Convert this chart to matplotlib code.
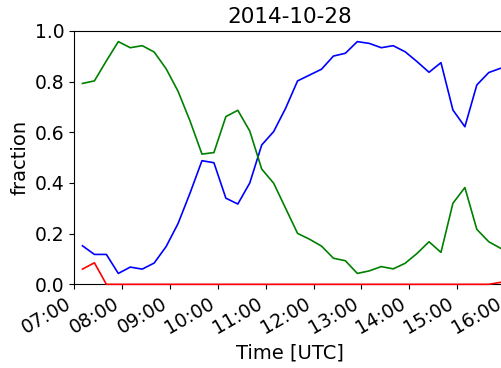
import numpy as np
import pandas as pd
import matplotlib
matplotlib.use("Agg")
import matplotlib.pyplot as plt
import matplotlib.dates as mdates

day = "2014-10-28"
# 15 minute samples starting 07:10 UTC
times = pd.date_range(day + " 07:10", periods=36, freq="15min")

frac_blue = [0.152, 0.118, 0.118, 0.043, 0.068, 0.060, 0.084, 0.149, 0.240, 0.360,
             0.488, 0.480, 0.340, 0.317, 0.400, 0.550, 0.603, 0.695, 0.803, 0.826,
             0.849, 0.901, 0.912, 0.958, 0.951, 0.934, 0.942, 0.918, 0.879, 0.837,
             0.875, 0.688, 0.622, 0.787, 0.836, 0.853]
frac_green = [0.793, 0.803, 0.882, 0.958, 0.934, 0.942, 0.917, 0.851, 0.762, 0.645,
              0.514, 0.520, 0.662, 0.687, 0.605, 0.455, 0.399, 0.300, 0.201, 0.178,
              0.151, 0.103, 0.093, 0.043, 0.053, 0.070, 0.061, 0.083, 0.122, 0.168,
              0.126, 0.320, 0.382, 0.217, 0.168, 0.142]
frac_red = [0.060, 0.085, 0.0, 0.0, 0.0, 0.0, 0.0, 0.0, 0.0, 0.0,
            0.0, 0.0, 0.0, 0.0, 0.0, 0.0, 0.0, 0.0, 0.0, 0.0,
            0.0, 0.0, 0.0, 0.0, 0.0, 0.0, 0.0, 0.0, 0.0, 0.0,
            0.0, 0.0, 0.0, 0.0, 0.0, 0.008]

fig = plt.figure(figsize=(5.02, 3.68), dpi=100)
ax = fig.add_axes([0.1484, 0.2274, 0.857, 0.6884])

ax.plot(times, frac_blue, color="blue", lw=1.2)
ax.plot(times, frac_green, color="green", lw=1.2)
# red sits on the x axis most of the day, keep it unclipped so it shows
ax.plot(times, frac_red, color="red", lw=1.2, clip_on=False, zorder=3)

ax.set_xlim(pd.Timestamp(day + " 07:00"), pd.Timestamp(day + " 16:00"))
ax.set_ylim(0, 1)
ax.set_yticks(np.arange(0, 1.01, 0.2))
ax.xaxis.set_major_locator(mdates.HourLocator())
ax.xaxis.set_major_formatter(mdates.DateFormatter("%H:%M"))
ax.tick_params(labelsize=13.5)
for lab in ax.get_xticklabels():
    lab.set_rotation(30)
    lab.set_ha("right")

ax.set_title(day, fontsize=15.5)
ax.set_ylabel("fraction", fontsize=14)
ax.set_xlabel("Time [UTC]", fontsize=14)

fig.savefig("out.png", dpi=100)
